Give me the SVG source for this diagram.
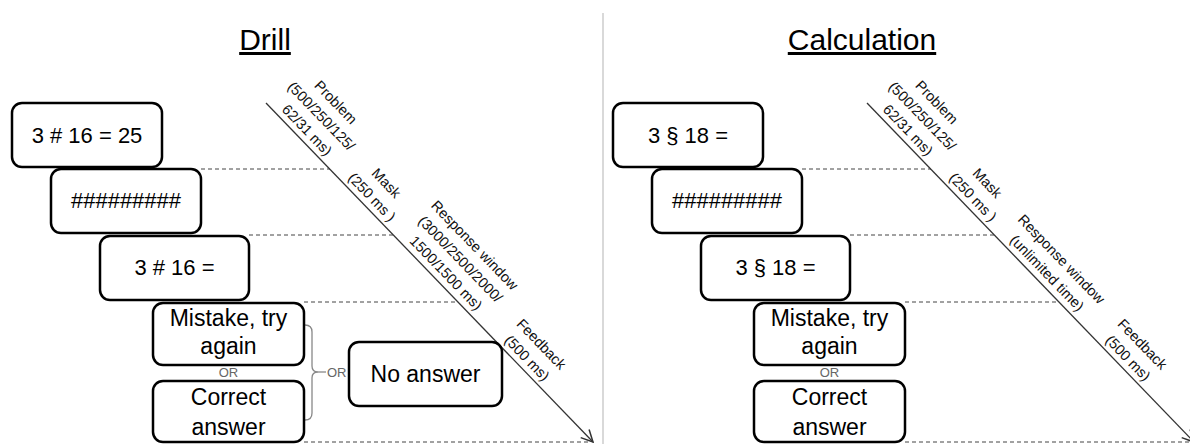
<svg xmlns="http://www.w3.org/2000/svg" width="1190" height="444" viewBox="0 0 1190 444">
<style>
.box{fill:#fff;stroke:#000;stroke-width:2.5}
.t{font-family:"Liberation Sans",Arial,sans-serif;font-size:22px;fill:#000;text-anchor:middle}
.tw{font-family:"Liberation Sans",Arial,sans-serif;font-size:23px;fill:#000;text-anchor:middle}
.title{font-family:"Liberation Sans",Arial,sans-serif;font-size:30px;fill:#000;text-anchor:middle;text-decoration:underline}
.lab{font-family:"Liberation Sans",Arial,sans-serif;font-size:14.5px;fill:#111;text-anchor:middle}
.or{font-family:"Liberation Sans",Arial,sans-serif;font-size:13px;fill:#666}
.dash{stroke:#444;stroke-width:1;stroke-dasharray:4 3;fill:none}
.diag{stroke:#333;stroke-width:1.3;fill:none}
.brace{stroke:#888;stroke-width:1.3;fill:none}
</style>
<defs>
<marker id="arr" markerUnits="userSpaceOnUse" markerWidth="14" markerHeight="14" refX="11" refY="6" orient="auto" viewBox="0 0 12 12">
<path d="M1,1 L11,6 L1,11" fill="none" stroke="#333" stroke-width="1.3"/>
</marker>
</defs>

<line x1="603" y1="13" x2="603" y2="444" stroke="#d9d9d9" stroke-width="2"/>

<text class="title" x="265" y="50">Drill</text>
<text class="title" x="862" y="50">Calculation</text>

<g id="connectors">
<line class="dash" x1="201" y1="169" x2="330" y2="169"/>
<line class="dash" x1="249" y1="235" x2="394" y2="235"/>
<line class="dash" x1="304" y1="302" x2="458" y2="302"/>
<line class="dash" x1="304" y1="442" x2="590" y2="442"/>
<line class="diag" x1="266" y1="103" x2="593" y2="442" marker-end="url(#arr)"/>
<path class="brace" d="M305,325 Q312,325 312,332 L312,366 Q312,372 318,372 Q312,372 312,378 L312,413 Q312,420 305,420"/>
<line class="brace" x1="318" y1="372" x2="326" y2="372"/>

<line class="dash" x1="802" y1="169" x2="931" y2="169"/>
<line class="dash" x1="850" y1="235" x2="995" y2="235"/>
<line class="dash" x1="905" y1="302" x2="1059" y2="302"/>
<line class="dash" x1="905" y1="442" x2="1190" y2="442"/>
<line class="diag" x1="867" y1="103" x2="1194" y2="442" marker-end="url(#arr)"/>
</g>

<g id="labels">
<g transform="translate(335.8,102.2) rotate(46)"><text class="lab"><tspan x="0" y="5">Problem</tspan><tspan x="0" y="25">(500/250/125/</tspan><tspan x="0" y="45">62/31 ms)</tspan></text></g>
<g transform="translate(386.4,183.1) rotate(46)"><text class="lab"><tspan x="0" y="5">Mask</tspan><tspan x="0" y="25">(250 ms )</tspan></text></g>
<g transform="translate(474.8,245.2) rotate(46)"><text class="lab"><tspan x="0" y="5">Response window</tspan><tspan x="0" y="25">(3000/2500/2000/</tspan><tspan x="0" y="45">1500/1500 ms)</tspan></text></g>
<g transform="translate(541.4,344.1) rotate(46)"><text class="lab"><tspan x="0" y="5">Feedback</tspan><tspan x="0" y="25">(500 ms)</tspan></text></g>

<g transform="translate(936.8,102.2) rotate(46)"><text class="lab"><tspan x="0" y="5">Problem</tspan><tspan x="0" y="25">(500/250/125/</tspan><tspan x="0" y="45">62/31 ms)</tspan></text></g>
<g transform="translate(987.4,183.1) rotate(46)"><text class="lab"><tspan x="0" y="5">Mask</tspan><tspan x="0" y="25">(250 ms )</tspan></text></g>
<g transform="translate(1061.4,259.1) rotate(46)"><text class="lab"><tspan x="0" y="5">Response window</tspan><tspan x="0" y="25">(unlimited time)</tspan></text></g>
<g transform="translate(1142.4,344.1) rotate(46)"><text class="lab"><tspan x="0" y="5">Feedback</tspan><tspan x="0" y="25">(500 ms)</tspan></text></g>
</g>

<g id="drill-problem"><rect class="box" x="12" y="103" width="150" height="64" rx="10"/><text class="t" x="87" y="143">3 # 16 = 25</text></g>
<g id="drill-mask"><rect class="box" x="51" y="169" width="150" height="64" rx="10"/><text class="t" x="126" y="208">#########</text></g>
<g id="drill-response"><rect class="box" x="100" y="236" width="149" height="64" rx="10"/><text class="t" x="174.5" y="275">3 # 16 =</text></g>
<g id="drill-mistake"><rect class="box" x="153" y="303" width="151" height="62" rx="10"/><text class="tw" x="228.5" y="326">Mistake, try</text><text class="tw" x="228.5" y="354">again</text></g>
<text class="or" x="228.5" y="377" text-anchor="middle">OR</text>
<g id="drill-correct"><rect class="box" x="153" y="381" width="151" height="61" rx="10"/><text class="tw" x="228.5" y="405">Correct</text><text class="tw" x="228.5" y="435">answer</text></g>
<text class="or" x="327" y="377">OR</text>
<g id="drill-noanswer"><rect class="box" x="349" y="342" width="153" height="64" rx="10"/><text class="tw" x="425.5" y="382">No answer</text></g>

<g id="calc-problem"><rect class="box" x="613" y="103" width="150" height="64" rx="10"/><text class="t" x="688" y="143">3 § 18 =</text></g>
<g id="calc-mask"><rect class="box" x="652" y="169" width="150" height="64" rx="10"/><text class="t" x="727" y="208">#########</text></g>
<g id="calc-response"><rect class="box" x="701" y="236" width="149" height="64" rx="10"/><text class="t" x="775.5" y="275">3 § 18 =</text></g>
<g id="calc-mistake"><rect class="box" x="754" y="303" width="151" height="62" rx="10"/><text class="tw" x="829.5" y="326">Mistake, try</text><text class="tw" x="829.5" y="354">again</text></g>
<text class="or" x="829.5" y="377" text-anchor="middle">OR</text>
<g id="calc-correct"><rect class="box" x="754" y="381" width="151" height="61" rx="10"/><text class="tw" x="829.5" y="405">Correct</text><text class="tw" x="829.5" y="435">answer</text></g>
</svg>
